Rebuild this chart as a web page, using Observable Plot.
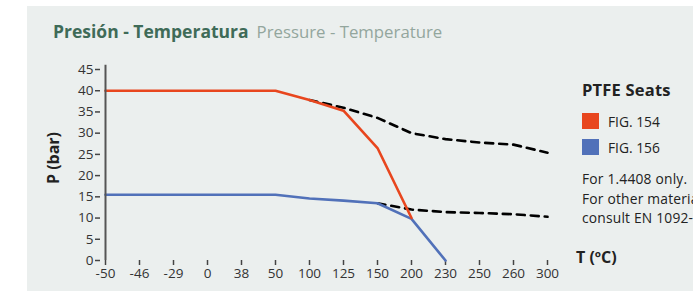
<!DOCTYPE html>
<html>
<head>
<meta charset="utf-8">
<script src="https://cdn.jsdelivr.net/npm/d3@7"></script>
<script src="https://cdn.jsdelivr.net/npm/@observablehq/plot@0.6"></script>
<style>
  html, body { margin: 0; padding: 0; background: #fff; overflow: hidden; }
  #wrap { position: relative; width: 693px; height: 291px; overflow: hidden; font-family: "Open Sans", "Noto Sans", sans-serif; }
  #panel { position: absolute; left: 27px; top: 6px; right: 0; bottom: 0; background: #ebefee; }
  #chart { position: absolute; left: 0; top: 0; }
  #title { position: absolute; left: 53px; top: 19px; font-size: 17.5px; white-space: nowrap; }
  #title b { color: #3f6b58; font-weight: 700; }
  #title span { color: #93a69d; font-weight: 400; margin-left: 8px; font-size: 16.8px; }
  #legend { position: absolute; left: 582px; top: 78px; color: #222; white-space: nowrap; }
  #legend .hd { font-weight: 700; font-size: 16.5px; margin-bottom: 12px; letter-spacing: 0.2px; }
  #legend .it { display: flex; align-items: center; font-size: 13.8px; height: 16px; margin-bottom: 10px; }
  #legend .sw { width: 17px; height: 16px; margin-right: 9px; }
  #legend .note { font-size: 13.8px; line-height: 19.5px; margin-top: 14px; letter-spacing: 0.2px; }
  #ylab { position: absolute; left: 53px; top: 158px; transform: translate(-50%, -50%) rotate(-90deg); font-weight: 700; font-size: 16px; color: #222; white-space: nowrap; }
  #xlab { position: absolute; left: 576px; top: 246px; font-weight: 700; font-size: 16px; color: #222; white-space: nowrap; }
</style>
</head>
<body>
<div id="wrap">
  <div id="panel"></div>
  <div id="chart"></div>
  <div id="title"><b>Presión - Temperatura</b><span>Pressure - Temperature</span></div>
  <div id="ylab">P (bar)</div>
  <div id="xlab">T (ºC)</div>
  <div id="legend">
    <div class="hd">PTFE Seats</div>
    <div class="it"><div class="sw" style="background:#e8461e"></div>FIG. 154</div>
    <div class="it"><div class="sw" style="background:#5171b9"></div>FIG. 156</div>
    <div class="note">For 1.4408 only.<br>For other materials<br>consult EN 1092-1</div>
  </div>
</div>
<script>
const temps = ["-50","-46","-29","0","38","50","100","125","150","200","230","250","260","300"];
const yTicks = [0,5,10,15,20,25,30,35,40,45];

const fig154T = ["-50","-46","-29","0","38","50","100","125","150","200"];
const fig154P = [40,40,40,40,40,40,37.8,35.3,26.5,10];

const fig156T = ["-50","-46","-29","0","38","50","100","125","150","200","230"];
const fig156P = [15.5,15.5,15.5,15.5,15.5,15.5,14.6,14.1,13.5,9.8,0];

const dashUpT = ["100","125","150","200","230","250","260","300"];
const dashUpP = [37.8,36,33.6,30,28.6,27.8,27.3,25.4];

const dashLoT = ["150","200","230","250","260","300"];
const dashLoP = [13.5,12,11.4,11.2,10.9,10.3];

const toRows = (t, p) => t.map((d, i) => ({t: d, p: p[i]}));

const chart = Plot.plot({
  width: 693,
  height: 291,
  marginLeft: 100,
  marginRight: 142,
  marginTop: 69,
  marginBottom: 31,
  style: {background: "transparent", fontFamily: "'Open Sans', 'Noto Sans', sans-serif", fontSize: "13.5px", color: "#333"},
  x: {type: "point", domain: temps, padding: 0, label: null},
  y: {domain: [0, 45], label: null},
  marks: [
    Plot.axisX({ticks: temps, tickSize: 5, tickPadding: 3, stroke: "#444", strokeWidth: 1.5, fill: "#333", label: null}),
    Plot.axisY({ticks: yTicks, tickSize: 5, tickPadding: 2, stroke: "#444", strokeWidth: 1.5, fill: "#333", label: null}),
    Plot.line(toRows(dashUpT, dashUpP), {x: "t", y: "p", stroke: "#000", strokeWidth: 2.6, strokeDasharray: "8,6"}),
    Plot.line(toRows(dashLoT, dashLoP), {x: "t", y: "p", stroke: "#000", strokeWidth: 2.6, strokeDasharray: "8,6"}),
    Plot.line(toRows(fig156T, fig156P), {x: "t", y: "p", stroke: "#5171b9", strokeWidth: 2.6}),
    Plot.line(toRows(fig154T, fig154P), {x: "t", y: "p", stroke: "#e8461e", strokeWidth: 2.6}),
    Plot.ruleY([0], {x1: temps[0], x2: temps[temps.length - 1], stroke: "#444", strokeWidth: 1.5}),
    Plot.ruleX([temps[0]], {y1: 0, y2: 46, stroke: "#555", strokeWidth: 2})
  ]
});
document.getElementById("chart").appendChild(chart);
</script>
</body>
</html>
